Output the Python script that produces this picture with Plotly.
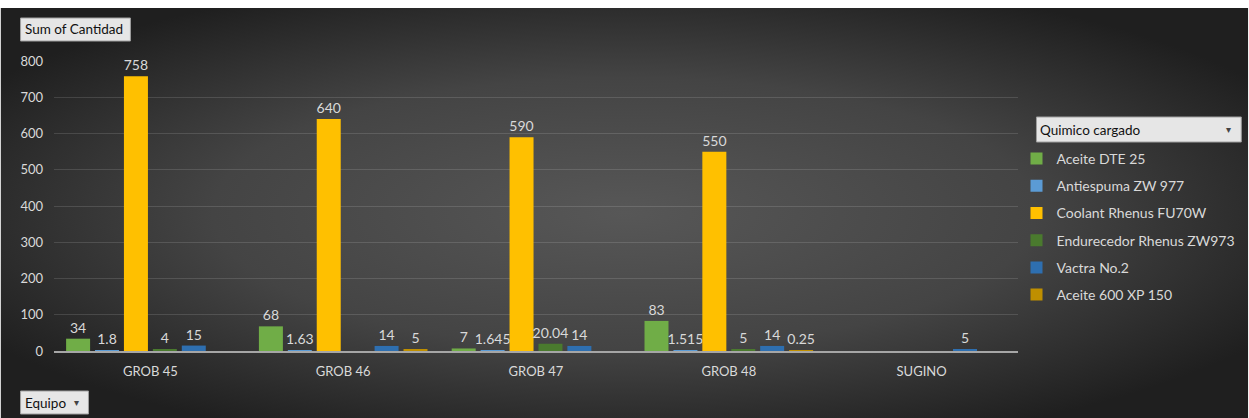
import base64
import plotly.graph_objects as go

# ---------------- data ----------------
equipos = ["GROB 45", "GROB 46", "GROB 47", "GROB 48", "SUGINO"]
series_names = ["Aceite DTE 25", "Antiespuma ZW 977", "Coolant Rhenus FU70W",
                "Endurecedor Rhenus ZW973", "Vactra No.2", "Aceite 600 XP 150"]
aceite_dte25 = [34, 68, 7, 83, None]
antiespuma = [1.8, 1.63, 1.645, 1.515, None]
coolant = [758, 640, 590, 550, None]
endurecedor = [4, None, 20.04, 5, None]
vactra = [15, 14, 14, 14, 5]
aceite600 = [None, 5, None, 0.25, None]
y_ticks = [0, 100, 200, 300, 400, 500, 600, 700, 800]

series_values = [aceite_dte25, antiespuma, coolant, endurecedor, vactra, aceite600]
colors = ["#70ad47", "#5b9bd5", "#ffc000", "#4a7a2e", "#2e6fb0", "#bf8f00"]

# ---------------- geometry ----------------
W, H = 1249, 418
L, R, T, B = 53.5, 1018.5, 61, 351
PW, PH = R - L, B - T


def px(x):
    return (x - L) / PW


def py(y):
    return (B - y) / PH


FONT = "Lato, 'Open Sans', sans-serif"
TXT = "#d9d9d9"

fig = go.Figure()
for i, (name, vals, col) in enumerate(zip(series_names, series_values, colors)):
    fig.add_trace(go.Bar(
        x=equipos, y=vals, name=name,
        marker=dict(color=col, line=dict(width=0)),
        texttemplate="%{y}",
        textposition="outside",
        textfont=dict(family=FONT, size=14, color=TXT),
        constraintext="none", cliponaxis=False,
        legendgroup=f"g{i}",
        hoverinfo="x+y+name",
    ))

# background radial gradient (svg data uri)
svg = f'''<svg xmlns="http://www.w3.org/2000/svg" width="{W}" height="{H-8}">
<defs><radialGradient id="g" cx="50%" cy="50%" r="60%" gradientUnits="objectBoundingBox">
<stop offset="0%" stop-color="#575757"/><stop offset="55%" stop-color="#444444"/>
<stop offset="100%" stop-color="#1f1f1f"/></radialGradient></defs>
<rect width="100%" height="100%" fill="url(#g)"/></svg>'''
bg_src = "data:image/svg+xml;base64," + base64.b64encode(svg.encode()).decode()

images = [dict(source=bg_src, xref="paper", yref="paper",
               x=px(0), y=py(8), sizex=W / PW, sizey=(H - 8) / PH,
               xanchor="left", yanchor="top", sizing="stretch", layer="below")]

shapes = []
annotations = []


def button(x0, y0, x1, y1, label, arrow_x=None):
    shapes.append(dict(type="rect", xref="paper", yref="paper",
                       x0=px(x0), x1=px(x1), y0=py(y1), y1=py(y0),
                       fillcolor="#e6e6e6", line=dict(color="#a0a0a0", width=1)))
    annotations.append(dict(xref="paper", yref="paper", x=px(x0 + 2), y=py((y0 + y1) / 2),
                            xanchor="left", yanchor="middle", showarrow=False,
                            text=label, font=dict(family=FONT, size=13.5, color="#111111")))
    if arrow_x is not None:
        annotations.append(dict(xref="paper", yref="paper", x=px(arrow_x), y=py((y0 + y1) / 2),
                                xanchor="center", yanchor="middle", showarrow=False,
                                text="▾", font=dict(family="DejaVu Sans", size=10, color="#444444")))


button(20, 18, 130, 41, "Sum of Cantidad")
button(20, 391, 88, 414, "Equipo", arrow_x=76)
button(1037, 117, 1242, 142, "Quimico cargado", arrow_x=1229)

fig.update_layout(
    width=W, height=H,
    margin=dict(l=L, r=W - R, t=T, b=H - B, pad=0, autoexpand=False),
    paper_bgcolor="#ffffff",
    plot_bgcolor="rgba(0,0,0,0)",
    barmode="group", bargap=0.1, bargroupgap=0.17,
    font=dict(family=FONT, size=13, color=TXT),
    showlegend=True,
    legend=dict(x=px(1017), y=py(143), xanchor="left", yanchor="top",
                bgcolor="rgba(0,0,0,0)", font=dict(family=FONT, size=14, color=TXT),
                tracegroupgap=6, itemclick=False),
    images=images, shapes=shapes, annotations=annotations,
    xaxis=dict(showline=True, linecolor="#a6a6a6", linewidth=1.5, showgrid=False,
               ticks="", tickfont=dict(family=FONT, size=13, color=TXT),
               ticklabelstandoff=8, fixedrange=True),
    yaxis=dict(range=[0, 800], tickvals=y_ticks, showgrid=True,
               gridcolor="rgba(255,255,255,0.13)", gridwidth=1, zeroline=False,
               ticks="", tickfont=dict(family=FONT, size=13, color=TXT),
               ticklabelstandoff=10, fixedrange=True),
)

fig.write_html("out.html")
